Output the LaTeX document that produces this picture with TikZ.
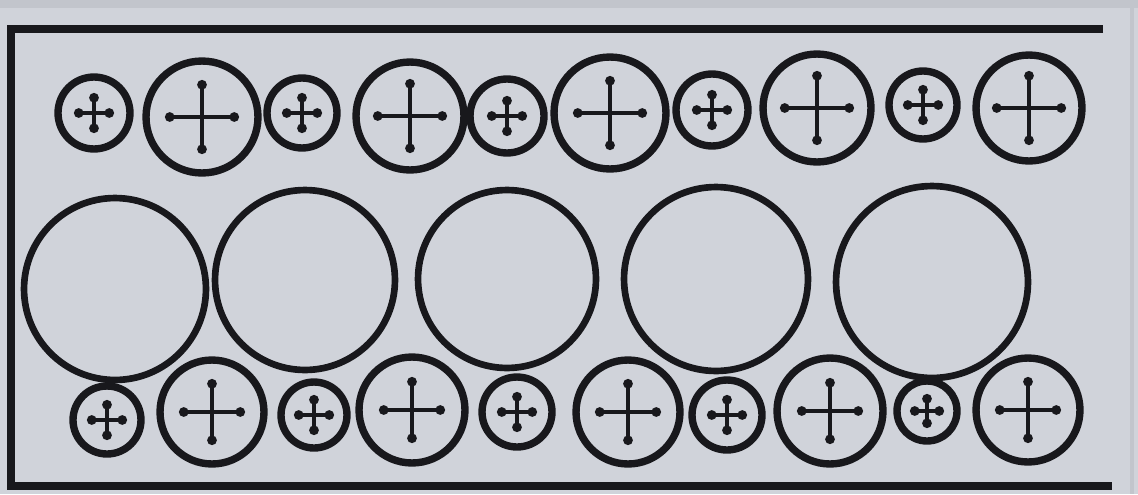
\documentclass[tikz,border=0pt]{standalone}
\usetikzlibrary{arrows.meta}

\definecolor{paper}{RGB}{208,211,218}
\definecolor{papershade}{RGB}{194,197,204}
\definecolor{ink}{RGB}{24,24,28}

\tikzset{
  coin/.style={circle, draw=ink, line width=4.2pt, inner sep=0pt, minimum size=#1*0.04cm},
  blank/.style={circle, draw=ink, line width=3.8pt, inner sep=0pt, minimum size=#1*0.04cm},
  crossline/.style={draw=ink, line width=2pt, {Circle[length=5.4pt]}-{Circle[length=5.4pt]}},
  frameline/.style={draw=ink, line width=4.5pt},
}

% cross with dotted ends inside a coin: node name, half arm
\newcommand{\coincross}[2]{%
  \draw[crossline] (#1.center) ++(-#2,0) -- ++(2*#2,0);
  \draw[crossline] (#1.center) ++(0,-#2) -- ++(0,2*#2);
}

\begin{document}
\begin{tikzpicture}[x=0.02cm, y=-0.02cm]
    \useasboundingbox (0,0) rectangle (1138,494);

    % Paper
    \fill[paper] (0,0) rectangle (1138,494);
    \fill[papershade] (0,0) rectangle (1138,8);
    \fill[papershade] (1130,0) rectangle (1134,494);

    % Frame
    \coordinate (ftr) at (1103,29);
    \coordinate (ftl) at (11,29);
    \coordinate (fbl) at (11,486);
    \coordinate (fbr) at (1112,486);
    \draw[frameline] (ftr) -- (ftl) -- (fbl) -- (fbr);

    % Top row
    \node[coin=36] (t1) at (94,113) {};
    \node[coin=56] (t2) at (202,117) {};
    \node[coin=35] (t3) at (302,113) {};
    \node[coin=54] (t4) at (410,116) {};
    \node[coin=37] (t5) at (507,116) {};
    \node[coin=56] (t6) at (610,113) {};
    \node[coin=36] (t7) at (712,110) {};
    \node[coin=54] (t8) at (817,108) {};
    \node[coin=34] (t9) at (923,105) {};
    \node[coin=53] (t10) at (1029,108) {};

    % Middle row
    \node[blank=91] (m1) at (115,289) {};
    \node[blank=90] (m2) at (305,280) {};
    \node[blank=89] (m3) at (507,279) {};
    \node[blank=92] (m4) at (716,279) {};
    \node[blank=96] (m5) at (932,282) {};

    % Bottom row
    \node[coin=34] (b1) at (107,420) {};
    \node[coin=52] (b2) at (212,412) {};
    \node[coin=33] (b3) at (314,415) {};
    \node[coin=53] (b4) at (412,410) {};
    \node[coin=35] (b5) at (517,412) {};
    \node[coin=52] (b6) at (628,412) {};
    \node[coin=35] (b7) at (727,415) {};
    \node[coin=53] (b8) at (830,411) {};
    \node[coin=30] (b9) at (927,411) {};
    \node[coin=52] (b10) at (1028,410) {};

    % Crosses
    \foreach \c in {t1,t3,t5,t7,t9,b1,b3,b5,b7} {\coincross{\c}{20}}
    \foreach \c in {b9} {\coincross{\c}{17}}
    \foreach \c in {t2,t4,t6,t8,t10} {\coincross{\c}{37}}
    \foreach \c in {b2,b4,b6,b8,b10} {\coincross{\c}{33}}
\end{tikzpicture}
\end{document}
